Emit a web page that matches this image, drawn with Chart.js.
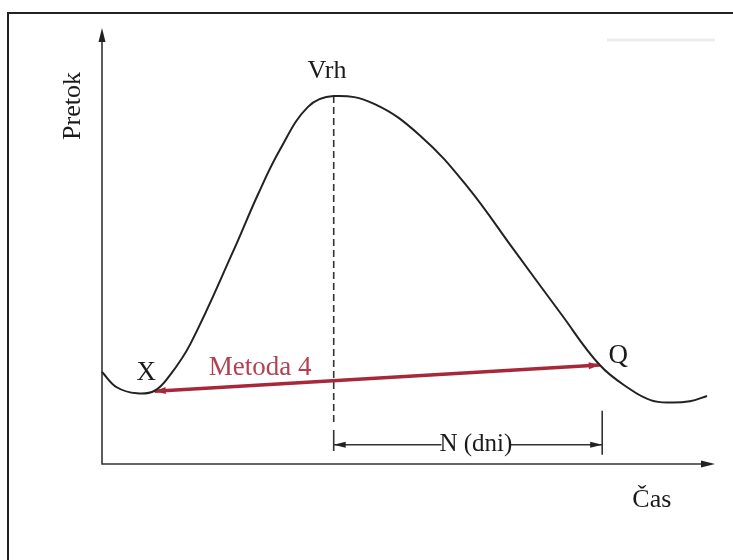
<!DOCTYPE html>
<html>
<head>
<meta charset="utf-8">
<title>Metoda 4</title>
<script src="https://cdn.jsdelivr.net/npm/chart.js@4/dist/chart.umd.min.js"></script>
<style>
    body { margin: 0; background: #fff; }
    #wrap { width: 733px; height: 560px; }
</style>
</head>
<body>
<div id="wrap"><canvas id="hydroChart" width="733" height="560"></canvas></div>
<script>
// hydrograph (time vs. flow, arbitrary units 0..100)
const curveTime = [0, 2.4, 5.7, 8.6, 11.0, 14.4, 21.5, 25.4, 29.0, 33.6, 37.8, 44.4, 52.0, 59.5, 67.2, 74.9, 81.2, 86.1, 89.6, 92.7, 95.9, 98.7];
const curveFlow = [21.1, 17.6, 16.2, 16.8, 20.2, 27.5, 49.1, 61.7, 72.0, 81.9, 84.4, 82.6, 75.2, 63.8, 49.1, 34.4, 22.7, 17.2, 14.6, 14.1, 14.4, 15.6];

// Metoda 4 baseline: from X to Q
const baseTime = [8.6, 81.2];
const baseFlow = [16.7, 22.7];

// peak (Vrh) and N (dni) bracket
const peakTime = [37.8, 37.8];
const peakFlow = [84.4, 8.9];
const spanTime = [37.8, 81.6];
const spanFlow = [4.4, 4.4];
const leftTickFlow = [7.8, 3.0];
const rightTickFlow = [12.2, 2.1];

const pts = (xs, ys) => xs.map((x, i) => ({ x: x, y: ys[i] }));

const serif = '"Liberation Serif", "DejaVu Serif", serif';

// arrow helper
function arrowHead(ctx, x1, y1, x2, y2, len, half, color) {
    const a = Math.atan2(y2 - y1, x2 - x1);
    ctx.save();
    ctx.fillStyle = color;
    ctx.beginPath();
    ctx.moveTo(x2, y2);
    ctx.lineTo(x2 - len * Math.cos(a) + half * Math.sin(a), y2 - len * Math.sin(a) - half * Math.cos(a));
    ctx.lineTo(x2 - len * Math.cos(a) - half * Math.sin(a), y2 - len * Math.sin(a) + half * Math.cos(a));
    ctx.closePath();
    ctx.fill();
    ctx.restore();
}

const sketchPlugin = {
    id: 'sketch',
    beforeDatasetsDraw(chart) {
        const ctx = chart.ctx;
        const xs = chart.scales.x, ys = chart.scales.y;
        const x0 = xs.getPixelForValue(0), x1 = xs.getPixelForValue(100);
        const y0 = ys.getPixelForValue(0), y1 = ys.getPixelForValue(100);

        ctx.save();
        // frame (top + left)
        ctx.strokeStyle = '#222';
        ctx.lineWidth = 2;
        ctx.beginPath();
        ctx.moveTo(8, chart.height);
        ctx.lineTo(8, 13);
        ctx.lineTo(chart.width, 13);
        ctx.stroke();

        // faint scan artefact top right
        ctx.strokeStyle = '#ededed';
        ctx.lineWidth = 3;
        ctx.beginPath();
        ctx.moveTo(607, 40);
        ctx.lineTo(715, 40);
        ctx.stroke();

        // axes
        ctx.strokeStyle = '#333';
        ctx.lineWidth = 1.6;
        ctx.beginPath();
        ctx.moveTo(x0, y1 + 8);
        ctx.lineTo(x0, y0);
        ctx.lineTo(x1 - 8, y0);
        ctx.stroke();
        ctx.restore();
        arrowHead(ctx, x0, y0, x0, y1, 14, 3.5, '#222');
        arrowHead(ctx, x0, y0, x1, y0, 14, 3.5, '#222');
    },
    afterDatasetsDraw(chart) {
        const ctx = chart.ctx;
        const xs = chart.scales.x, ys = chart.scales.y;
        const px = v => xs.getPixelForValue(v);
        const py = v => ys.getPixelForValue(v);

        // red baseline arrowheads
        arrowHead(ctx, px(baseTime[1]), py(baseFlow[1]), px(baseTime[0]), py(baseFlow[0]), 11, 3.5, '#a8283a');
        arrowHead(ctx, px(baseTime[0]), py(baseFlow[0]), px(baseTime[1]), py(baseFlow[1]), 11, 3.5, '#a8283a');

        // N (dni) arrowheads
        arrowHead(ctx, px(spanTime[1]), py(spanFlow[1]), px(spanTime[0]), py(spanFlow[0]), 12, 3, '#222');
        arrowHead(ctx, px(spanTime[0]), py(spanFlow[0]), px(spanTime[1]), py(spanFlow[1]), 12, 3, '#222');

        ctx.save();
        ctx.textAlign = 'center';
        ctx.textBaseline = 'middle';

        // N (dni) with white knock-out
        ctx.font = '25px ' + serif;
        const nx = px(61.0), ny = py(4.4);
        const nw = ctx.measureText('N (dni)').width;
        ctx.fillStyle = '#fff';
        ctx.fillRect(nx - nw / 2 + 2, ny - 5, nw - 4, 10);
        ctx.fillStyle = '#1a1a1a';
        ctx.fillText('N (dni)', nx, ny);

        ctx.font = '26px ' + serif;
        ctx.fillText('Vrh', px(36.7), py(90.1));
        ctx.font = '27px ' + serif;
        ctx.fillText('X', px(7.2), py(20.9));
        ctx.fillText('Q', px(84.2), py(24.8));
        ctx.font = '26px ' + serif;
        ctx.fillText('Čas', px(89.7), py(-8.3));

        ctx.fillStyle = '#b5404f';
        ctx.font = '27px ' + serif;
        ctx.fillText('Metoda 4', px(25.8), py(22.0));

        // y axis title
        ctx.fillStyle = '#1a1a1a';
        ctx.font = '26px ' + serif;
        ctx.translate(px(-4.7), py(82.1));
        ctx.rotate(-Math.PI / 2);
        ctx.fillText('Pretok', 0, 0);
        ctx.restore();
    }
};

document.addEventListener('DOMContentLoaded', function() {
    const ctx = document.getElementById('hydroChart').getContext('2d');
    new Chart(ctx, {
        type: 'scatter',
        data: {
            datasets: [
                {
                    label: 'Pretok',
                    data: pts(curveTime, curveFlow),
                    showLine: true,
                    borderColor: '#222',
                    borderWidth: 2,
                    pointRadius: 0,
                    tension: 0.4
                },
                {
                    label: 'Metoda 4',
                    data: pts(baseTime, baseFlow),
                    showLine: true,
                    borderColor: '#a8283a',
                    borderWidth: 3.5,
                    pointRadius: 0
                },
                {
                    label: 'Vrh',
                    data: pts(peakTime, peakFlow),
                    showLine: true,
                    borderColor: '#333',
                    borderWidth: 1.6,
                    borderDash: [7, 4],
                    pointRadius: 0
                },
                {
                    label: 'N',
                    data: pts(spanTime, spanFlow),
                    showLine: true,
                    borderColor: '#333',
                    borderWidth: 1.6,
                    pointRadius: 0
                },
                {
                    label: 'N left',
                    data: pts([spanTime[0], spanTime[0]], leftTickFlow),
                    showLine: true,
                    borderColor: '#333',
                    borderWidth: 1.6,
                    pointRadius: 0
                },
                {
                    label: 'N right',
                    data: pts([spanTime[1], spanTime[1]], rightTickFlow),
                    showLine: true,
                    borderColor: '#333',
                    borderWidth: 1.6,
                    pointRadius: 0
                }
            ]
        },
        options: {
            responsive: false,
            animation: false,
            layout: { padding: { left: 102, right: 18, top: 28, bottom: 96 } },
            clip: false,
            scales: {
                x: { type: 'linear', min: 0, max: 100, display: false },
                y: { type: 'linear', min: 0, max: 100, display: false }
            },
            plugins: {
                legend: { display: false },
                tooltip: { enabled: false }
            }
        },
        plugins: [sketchPlugin]
    });
});
</script>
</body>
</html>
